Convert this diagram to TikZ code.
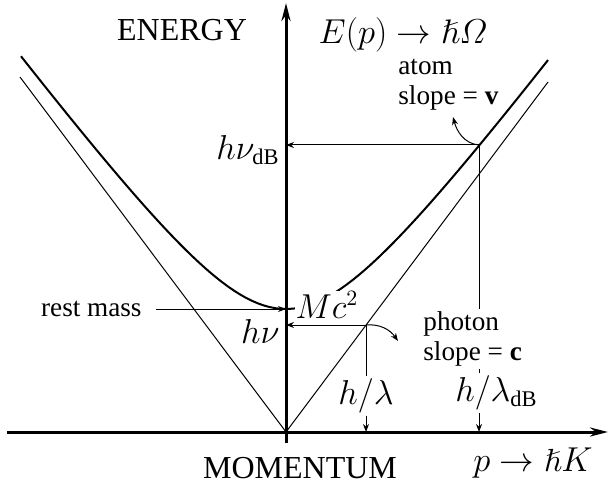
\documentclass[tikz,border=0pt]{standalone}
\usepackage{amsmath,amssymb}
\usepackage{fontspec}
\setmainfont{Liberation Serif}
\usetikzlibrary{arrows.meta}

\begin{document}
\begin{tikzpicture}[x=0.5pt, y=0.5pt,
  every node/.style={font=\fontsize{16}{15.5}\selectfont, inner sep=1pt},
  lab/.style={font=\fontsize{13.6}{15}\selectfont, align=left},
  axis/.style={line width=1.5pt, -{Stealth[length=9pt,width=4.5pt]}},
  thin/.style={line width=0.5pt},
  tip/.style={thin, -{Stealth[length=4pt,width=3pt]}}]
  \useasboundingbox (-286,-55) rectangle (322,432);
  % axes
  \coordinate (O) at (0,0);
  \coordinate (xl) at (-279,0);
  \coordinate (xr) at (322,0);
  \coordinate (yb) at (0,-11);
  \coordinate (yt) at (0,429);
  \draw[axis] (xl) -- (xr);
  \draw[axis] (yb) -- (yt);
  % photon light cone
  \coordinate (cl) at (-266,355);
  \coordinate (cr) at (262,350);
  \draw[thin] (cl) -- (O) -- (cr);
  % atom dispersion E(p)
  \draw[line width=1pt, domain=-265:262, samples=90]
    plot (\x, {100*sqrt(1.513 + (0.0134*\x)^2)});
  \coordinate (A) at (193,287);
  \coordinate (P) at (80,107);
  \coordinate (M0) at (0,123);
  % labels
  \node (energy) at (-104,402) {ENERGY};
  \node[font=\fontsize{17}{17}\selectfont] (Ep) at (117,397) {$E(p)\rightarrow\hslash\varOmega$};
  \node[lab, anchor=west] (atom) at (110,347) {atom\\slope = \textbf{v}};
  \node[anchor=east] (hvdB) at (-4,282) {$h\nu_{\mathrm{dB}}$};
  \node[lab, anchor=east] (rest) at (-142,123) {rest mass};
  \node[fill=white, inner sep=0.5pt] (Mc) at (41,127) {$Mc^2$};
  \node[anchor=east] (hv) at (-4,101) {$h\nu$};
  \node[lab, anchor=west] (photon) at (135,93) {photon\\slope = \textbf{c}};
  \node (hl) at (80,36) {$h/\lambda$};
  \node[anchor=west] (hldB) at (167,39) {$h/\lambda_{\mathrm{dB}}$};
  \node (mom) at (14,-36) {MOMENTUM};
  \node (pK) at (247,-31) {$p\rightarrow\hslash K$};
  % atom point
  \coordinate (atomtip) at (167,315);
  \draw[tip] (A) -- (A -| O);
  \draw[tip] (A) to[out=175,in=-75] (atomtip);
  \draw[thin] (A) -- (A |- photon.north);
  \draw[thin] (A |- photon.south) -- (A |- hldB.north);
  \draw[tip] (A |- hldB.south) -- (A |- O);
  % photon point
  \coordinate (phtip) at (112,91);
  \draw[tip] (P) -- (P -| O);
  \draw[tip] (P) to[out=5,in=125] (phtip);
  \draw[thin] (P) -- (P |- hl.north);
  \draw[tip] (P |- hl.south) -- (P |- O);
  % rest mass
  \draw[tip] ([xshift=6pt]rest.east) -- (M0);
\end{tikzpicture}
\end{document}
